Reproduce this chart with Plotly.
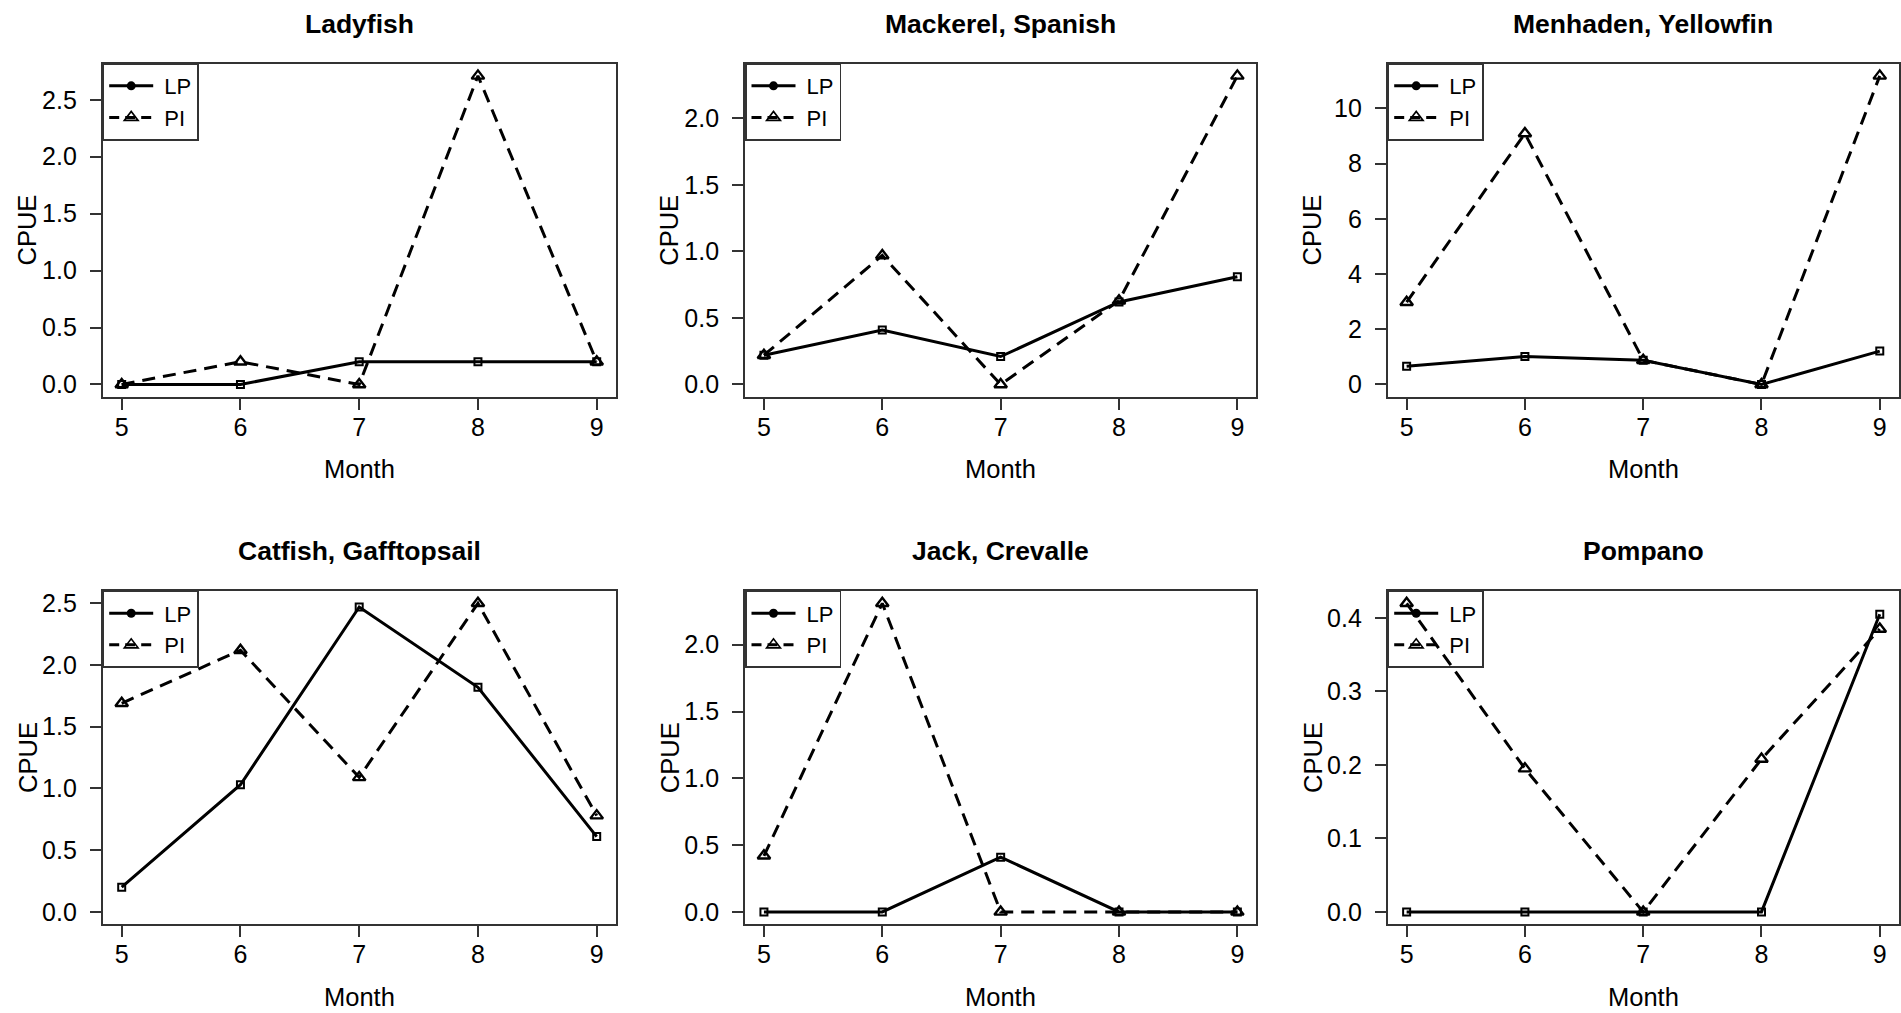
import plotly.graph_objects as go

# ---- data -------------------------------------------------------------
months = [5, 6, 7, 8, 9]
species = ["Ladyfish", "Mackerel, Spanish", "Menhaden, Yellowfin",
           "Catfish, Gafftopsail", "Jack, Crevalle", "Pompano"]
gear_names = ["LP", "PI"]

ladyfish_lp = [0.0, 0.0, 0.2, 0.2, 0.2]
ladyfish_pi = [0.0, 0.2, 0.0, 2.71, 0.2]
mackerel_lp = [0.22, 0.41, 0.21, 0.62, 0.81]
mackerel_pi = [0.22, 0.97, 0.0, 0.63, 2.32]
menhaden_lp = [0.66, 1.01, 0.88, 0.0, 1.21]
menhaden_pi = [2.98, 9.09, 0.88, 0.0, 11.18]
catfish_lp = [0.2, 1.03, 2.47, 1.82, 0.61]
catfish_pi = [1.69, 2.12, 1.09, 2.5, 0.78]
jack_lp = [0.0, 0.0, 0.41, 0.0, 0.0]
jack_pi = [0.42, 2.31, 0.0, 0.0, 0.0]
pompano_lp = [0.0, 0.0, 0.0, 0.0, 0.405]
pompano_pi = [0.42, 0.195, 0.0, 0.208, 0.385]

lp_series = [ladyfish_lp, mackerel_lp, menhaden_lp, catfish_lp, jack_lp, pompano_lp]
pi_series = [ladyfish_pi, mackerel_pi, menhaden_pi, catfish_pi, jack_pi, pompano_pi]

y_dticks = [0.5, 0.5, 2, 0.5, 0.5, 0.1]
y_formats = [".1f", ".1f", "d", ".1f", ".1f", ".1f"]

# ---- page geometry (pixels) -------------------------------------------
W, H = 1901, 1013
col_edges = [(102.7, 615.7), (745.0, 1256.3), (1387.7, 1898.7)]
row_edges = [(61.7, 396.0), (590.7, 925.0)]

FONT = "Liberation Sans, Arial, Helvetica, sans-serif"
INK = "black"
FRAME = "#333333"
TICK_SIZE = 25
LABEL_SIZE = 25.5
TITLE_SIZE = 26.5
LEGEND_SIZE = 22
DASH = "13px,8px"
LW = 3
NBSP = "\u00a0"


def px_x(v):
    return v / W


def px_y(v):
    return 1 - v / H


fig = go.Figure()
annotations = []
layout_axes = {}
legends = {}

for i, name in enumerate(species):
    row, col = divmod(i, 3)
    x0, x1 = col_edges[col]
    y0, y1 = row_edges[row]
    k = "" if i == 0 else str(i + 1)
    xa, ya = "x" + k, "y" + k
    leg = "legend" + k

    lp = lp_series[i]
    pi = pi_series[i]
    hi = max(max(lp), max(pi))
    lo = 0.0
    pad = 0.04 * (hi - lo)

    layout_axes["xaxis" + k] = dict(
        domain=[px_x(x0), px_x(x1)], anchor=ya,
        range=[4.84, 9.16], tickvals=months,
        ticks="outside", ticklen=11, tickwidth=1.5, tickcolor=FRAME,
        showline=True, mirror=True, linecolor=FRAME, linewidth=1.8,
        showgrid=False, zeroline=False, ticklabelstandoff=-4,
        tickfont=dict(family=FONT, size=TICK_SIZE, color=INK),
    )
    layout_axes["yaxis" + k] = dict(
        domain=[px_y(y1), px_y(y0)], anchor=xa,
        range=[lo - pad, hi + pad], tick0=0, dtick=y_dticks[i],
        tickformat=y_formats[i],
        ticks="outside", ticklen=11, tickwidth=1.5, tickcolor=FRAME,
        showline=True, mirror=True, linecolor=FRAME, linewidth=1.8,
        showgrid=False, zeroline=False, ticklabelstandoff=8,
        tickfont=dict(family=FONT, size=TICK_SIZE, color=INK),
    )

    # data series
    fig.add_trace(go.Scatter(
        x=months, y=lp, mode="lines+markers", xaxis=xa, yaxis=ya,
        showlegend=False, name="LP",
        line=dict(color="black", width=LW),
        marker=dict(symbol="square-open", size=7, color="black",
                    line=dict(width=2, color="black")),
    ))
    fig.add_trace(go.Scatter(
        x=months, y=pi, mode="lines+markers", xaxis=xa, yaxis=ya,
        showlegend=False, name="PI",
        line=dict(color="black", width=LW, dash=DASH),
        marker=dict(symbol="triangle-up-open", size=11, color="black",
                    line=dict(width=2.4, color="black")),
    ))

    # legend keys
    fig.add_trace(go.Scatter(
        x=[None], y=[None], mode="lines+markers", xaxis=xa, yaxis=ya,
        name=NBSP + gear_names[0], legend=leg, showlegend=True,
        line=dict(color="black", width=LW),
        marker=dict(symbol="circle", size=9, color="black"),
    ))
    fig.add_trace(go.Scatter(
        x=[None], y=[None], mode="lines+markers", xaxis=xa, yaxis=ya,
        name=NBSP + gear_names[1], legend=leg, showlegend=True,
        line=dict(color="black", width=LW, dash="10px,6px"),
        marker=dict(symbol="triangle-up-open", size=12, color="black",
                    line=dict(width=1.6, color="black")),
    ))
    legends[leg] = dict(
        x=px_x(x0), y=px_y(y0), xanchor="left", yanchor="top",
        xref="paper", yref="paper",
        bgcolor="rgba(0,0,0,0)", bordercolor=FRAME, borderwidth=1.5,
        font=dict(family=FONT, size=LEGEND_SIZE, color=INK),
        itemwidth=44, tracegroupgap=0,
    )

    xm = (x0 + x1) / 2
    ym = (y0 + y1) / 2
    annotations.append(dict(
        text="<b>%s</b>" % name, x=px_x(xm), y=px_y(y0 - 40),
        xref="paper", yref="paper", xanchor="center", yanchor="middle",
        showarrow=False, font=dict(family=FONT, size=TITLE_SIZE, color=INK),
    ))
    annotations.append(dict(
        text="Month", x=px_x(xm), y=px_y(y1 + 72.5),
        xref="paper", yref="paper", xanchor="center", yanchor="middle",
        showarrow=False, font=dict(family=FONT, size=LABEL_SIZE, color=INK),
    ))
    annotations.append(dict(
        text="CPUE", x=px_x(x0 - 75.4), y=px_y(ym), textangle=-90,
        xref="paper", yref="paper", xanchor="center", yanchor="middle",
        showarrow=False, font=dict(family=FONT, size=LABEL_SIZE, color=INK),
    ))

fig.update_layout(
    width=W, height=H, autosize=False,
    margin=dict(l=0, r=0, t=0, b=0),
    paper_bgcolor="white", plot_bgcolor="white",
    font=dict(family=FONT, color=INK),
    annotations=annotations,
    **layout_axes,
    **legends,
)

fig.write_html("out.html")
